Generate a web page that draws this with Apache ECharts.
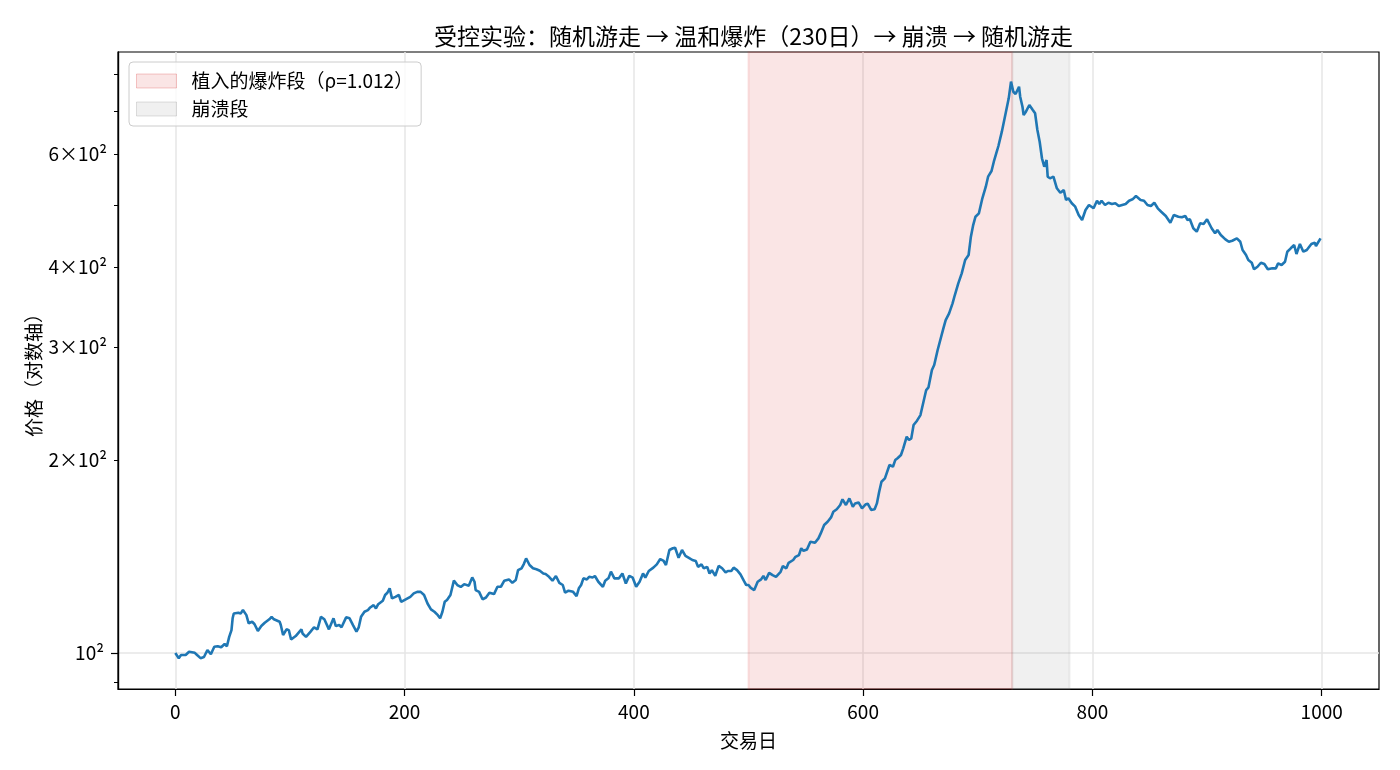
<!DOCTYPE html>
<html>
<head>
<meta charset="utf-8">
<script src="https://cdn.jsdelivr.net/npm/echarts@6/dist/echarts.min.js"></script>
<style>
  html, body { margin: 0; padding: 0; background: #fff; }
  #chart { width: 1400px; height: 770px; }
</style>
</head>
<body>
<div id="chart"></div>
<script>
const FONT = '"Noto Sans CJK SC", "Noto Sans", sans-serif';

// trading day / price (segment per line)
const days = [
  0, 3, 5, 9, 12, 17, 19, 22, 25, 28, 31, 34, 37, 40, 43, 45, 47, 49, 50, 51, 55, 57, 59, 62, 64, 67, 69, 72, 75, 78, 82, 84, 86, 91, 92, 94, 97, 99, 101, 105, 110, 111, 114, 118, 121, 124, 127, 130,
  134, 138, 140, 143, 145, 149, 152, 155, 158, 160, 162, 165, 168, 170, 173, 175, 177, 181, 183, 185, 187, 189, 192, 195, 197, 201, 205, 208, 211, 214, 217, 220, 223, 226, 229, 231, 233, 235, 237, 240, 243, 246, 249, 252, 256,
  259, 261, 262, 265, 268, 271, 274, 278, 281, 284, 287, 291, 294, 297, 299, 302, 304, 306, 309, 312, 315, 318, 321, 323, 326, 329, 332, 335, 338, 340, 343, 347, 350, 352, 354, 356, 359, 361, 364, 366, 369, 373, 375, 378, 380,
  383, 387, 390, 393, 396, 399, 402, 405, 408, 410, 413, 417, 420, 423, 426, 428, 431, 434, 436, 439, 442, 445, 448, 451, 454, 456, 459, 461, 464, 466, 468, 471, 474, 477, 480, 482, 485, 487, 490, 493, 496, 498, 500, 502, 505,
  508, 511, 513, 515, 518, 521, 524, 528, 530, 533, 535, 539, 541, 544, 546, 548, 551, 554, 558, 561, 563, 566, 569, 572, 574, 577, 580, 582, 585, 588, 591, 593, 596, 599, 602, 604,
  607, 610, 612, 614, 616, 619, 623, 626, 628, 630, 633, 635, 638, 640, 642, 644, 647, 650, 653, 655, 657, 660, 662, 665, 666,
  670, 672, 675, 678, 680, 683, 686, 689, 692, 694, 696, 698, 701, 704, 707, 709, 712, 714, 717, 718, 721, 724, 727, 729,
  731, 733, 736, 737, 739, 740, 742, 745, 748, 750, 752, 754, 756, 758, 760, 761, 763, 766, 769, 772, 775, 777, 779, 782, 785, 788, 791, 794, 797,
  801, 804, 806, 808, 811, 814, 817, 820, 823, 826, 829, 832, 835, 838, 842, 845, 848, 851, 854, 857, 860, 864, 868, 871, 875, 878, 881, 883, 885, 888, 891, 894, 897, 900,
  904, 907, 909, 912, 916, 919, 922, 926, 929, 931, 934, 936, 939, 941, 944, 947, 950, 953, 957, 960, 962, 965, 968, 970, 973, 976, 978, 981, 984, 987, 991, 994, 995, 999
];
const prices = [
  100, 98.2, 99.3, 99.3, 100.5, 100.1, 99.3, 98.2, 98.6, 101.1, 99.6, 102.3, 102.5, 102.1, 103.3, 102.5, 106.0, 108.6, 113.3, 115.3, 115.6, 115.3, 116.7, 114.6, 111.3, 111.9, 111.0, 108.3, 110.2, 111.5, 112.9, 113.9, 112.9, 111.9, 110.6, 106.7, 108.9, 108.6, 105.0, 106.3, 108.9, 107.3, 106.0, 108.0, 109.7, 108.9, 113.9, 112.9,
  108.9, 113.3, 110.2, 110.6, 109.7, 113.7, 113.3, 110.6, 108.0, 109.7, 113.9, 116.0, 116.7, 117.8, 118.8, 117.4, 119.2, 120.7, 123.2, 124.2, 126.2, 121.7, 122.4, 123.2, 120.2, 121.3, 122.4, 123.9, 124.6, 124.6, 123.2, 119.5, 117.0, 116.0, 114.6, 113.3, 116.0, 120.2, 121.0, 123.2, 129.7, 127.7, 126.8, 128.1, 127.4,
  131.2, 129.2, 125.4, 124.6, 121.3, 122.1, 124.2, 123.6, 126.9, 126.9, 129.7, 130.3, 128.7, 130.0, 134.7, 135.6, 137.7, 140.5, 137.2, 135.6, 135.1, 134.4, 133.1, 132.8, 131.5, 129.7, 131.9, 128.7, 127.7, 124.2, 125.1, 124.6, 122.7, 126.2, 127.7, 130.8, 130.3, 131.5, 131.2, 131.9, 129.2, 126.9, 129.7, 131.0, 134.0,
  130.8, 130.8, 133.1, 128.4, 132.0, 131.1, 126.9, 129.2, 133.1, 131.1, 134.3, 135.9, 137.5, 140.2, 139.2, 137.2, 144.8, 145.7, 146.0, 140.8, 144.8, 141.8, 140.8, 139.7, 139.2, 136.3, 137.5, 135.6, 136.3, 133.1, 134.7, 132.0, 136.8, 135.6, 133.6, 134.3, 134.3, 135.9, 134.7, 132.7, 129.6, 127.7, 127.7, 126.4, 125.4,
  129.2, 130.3, 131.9, 130.0, 133.4, 132.3, 131.5, 133.9, 136.7, 135.6, 138.3, 139.7, 141.3, 142.2, 145.7, 144.4, 145.1, 149.2, 148.6, 151.0, 153.7, 158.4, 160.3, 162.8, 166.1, 167.6, 170.2, 173.7, 170.2, 174.3, 169.1, 171.2, 171.8, 168.2, 170.5, 171.0,
  167.2, 167.6, 171.2, 178.5, 185.0, 187.3, 196.5, 195.3, 200.0, 201.3, 203.7, 208.6, 217.5, 214.9, 216.2, 226.8, 230.4, 235.1, 248.1, 257.2, 259.7, 276.4, 281.4, 297.0, 298.8,
  321.0, 330.7, 338.8, 351.2, 361.8, 377.3, 391.1, 410.3, 417.7, 446.1, 465.2, 479.3, 485.2, 512.1, 533.9, 553.4, 564.8, 584.0, 609.1, 617.9, 650.5, 690.7, 733.3, 778.5,
  750.9, 744.7, 764.5, 737.6, 711.5, 690.7, 698.9, 715.9, 703.2, 694.9, 654.5, 627.5, 591.2, 573.6, 587.6, 553.4, 550.2, 553.4, 530.8, 522.5, 527.6, 509.0, 512.1, 503.0, 496.9, 482.3, 473.7, 491.0, 499.9,
  494.0, 507.7, 501.7, 507.7, 499.9, 504.0, 501.7, 503.0, 498.1, 499.9, 501.7, 507.7, 510.2, 516.3, 509.0, 507.7, 499.9, 498.1, 504.0, 494.0, 488.0, 480.5, 469.1, 482.3, 479.3, 478.3, 480.5, 473.7, 474.9, 459.8, 454.2, 468.1, 466.9, 474.9,
  459.8, 451.6, 457.0, 448.8, 441.9, 438.1, 439.7, 443.5, 438.1, 425.3, 417.7, 410.3, 406.3, 396.8, 400.5, 406.3, 404.4, 396.8, 398.2, 398.2, 405.4, 403.0, 407.8, 422.7, 427.9, 433.0, 419.2, 434.5, 422.7, 425.3, 434.5, 436.6, 431.4, 443.5
];

const boomRange = [500, 730];
const crashRange = [730, 780];
const boomName = '植入的爆炸段（ρ=1.012）';
const crashName = '崩溃段';

const xTicks = [0, 200, 400, 600, 800, 1000];
const yMajorTicks = [100];
const yMinorTicks = [90, 200, 300, 400, 500, 600, 700, 800];
const yMinorLabels = [200, 300, 400, 600];

const boomFill = 'rgba(214,39,40,0.12)';
const crashFill = 'rgba(128,128,128,0.12)';

function logLabel(v) {
  const m = Math.round(v / 100);
  return m === 1 ? '10²' : m + '×10²';
}

const chart = echarts.init(document.getElementById('chart'));

const yBase = {
  type: 'log',
  logBase: 10,
  min: 87.9,
  max: 866,
  position: 'left',
  axisLine: { show: true, onZero: false, lineStyle: { color: '#000', width: 1.2 } },
  axisLabel: { color: '#000', fontSize: 19, fontFamily: FONT, formatter: logLabel },
  minorTick: { show: false }
};

chart.setOption({
  animation: false,
  backgroundColor: '#fff',
  textStyle: { fontFamily: FONT },
  title: {
    text: '受控实验：随机游走 → 温和爆炸（230日）→ 崩溃 → 随机游走',
    left: 748.5,
    top: 20,
    textAlign: 'center',
    textStyle: { fontSize: 23, fontWeight: 'normal', color: '#000', fontFamily: FONT }
  },
  grid: {
    left: 118, right: 21, top: 52, bottom: 81,
    show: true, borderColor: '#000', borderWidth: 1.2, backgroundColor: 'transparent'
  },
  legend: {
    orient: 'vertical',
    left: 129,
    top: 62,
    itemWidth: 40,
    itemHeight: 14,
    itemGap: 6,
    padding: [8, 8, 6, 7],
    backgroundColor: 'rgba(255,255,255,0.8)',
    borderColor: '#cccccc',
    borderWidth: 1,
    borderRadius: 4,
    textStyle: { fontSize: 19, color: '#000', fontFamily: FONT, lineHeight: 22, padding: [0, 0, 0, 10] },
    data: [
      { name: boomName, icon: 'rect', itemStyle: { color: boomFill, borderColor: 'rgba(214,39,40,0.25)', borderWidth: 1 } },
      { name: crashName, icon: 'rect', itemStyle: { color: crashFill, borderColor: 'rgba(128,128,128,0.25)', borderWidth: 1 } }
    ]
  },
  xAxis: {
    type: 'value',
    min: -50,
    max: 1050,
    name: '交易日',
    nameLocation: 'middle',
    nameGap: 42,
    nameTextStyle: { fontSize: 19, color: '#000', fontFamily: FONT },
    axisLine: { show: true, onZero: false, lineStyle: { color: '#000', width: 1.2 } },
    axisTick: { show: true, length: 7, lineStyle: { color: '#000', width: 1.2 }, customValues: xTicks },
    axisLabel: { color: '#000', fontSize: 19, fontFamily: FONT, margin: 13, customValues: xTicks, formatter: v => String(v) },
    splitLine: { show: true, lineStyle: { color: '#e6e6e6', width: 1.5 } }
  },
  yAxis: [
    Object.assign({}, yBase, {
      name: '价格（对数轴）',
      nameLocation: 'middle',
      nameGap: 75,
      nameRotate: 90,
      nameTextStyle: { fontSize: 19, color: '#000', fontFamily: FONT },
      axisTick: { show: true, length: 7, lineStyle: { color: '#000', width: 1.2 }, customValues: yMajorTicks },
      axisLabel: Object.assign({}, yBase.axisLabel, { margin: 14, customValues: yMajorTicks }),
      splitLine: { show: true, lineStyle: { color: '#e6e6e6', width: 1.5 } }
    }),
    Object.assign({}, yBase, {
      axisTick: { show: true, length: 4, lineStyle: { color: '#000', width: 1 }, customValues: yMinorTicks },
      axisLabel: Object.assign({}, yBase.axisLabel, { margin: 11, customValues: yMinorLabels }),
      splitLine: { show: false }
    })
  ],
  series: [
    {
      name: boomName,
      type: 'line',
      data: [],
      markArea: {
        silent: true,
        itemStyle: { color: boomFill, borderColor: boomFill, borderWidth: 2 },
        data: [[{ xAxis: boomRange[0] }, { xAxis: boomRange[1] }]]
      }
    },
    {
      name: crashName,
      type: 'line',
      data: [],
      markArea: {
        silent: true,
        itemStyle: { color: crashFill, borderColor: crashFill, borderWidth: 2 },
        data: [[{ xAxis: crashRange[0] }, { xAxis: crashRange[1] }]]
      }
    },
    {
      name: '价格',
      type: 'line',
      data: days.map((d, i) => [d, prices[i]]),
      showSymbol: false,
      symbol: 'none',
      z: 5,
      lineStyle: { color: '#1f77b4', width: 2.6 },
      emphasis: { disabled: true }
    }
  ]
});
</script>
</body>
</html>
